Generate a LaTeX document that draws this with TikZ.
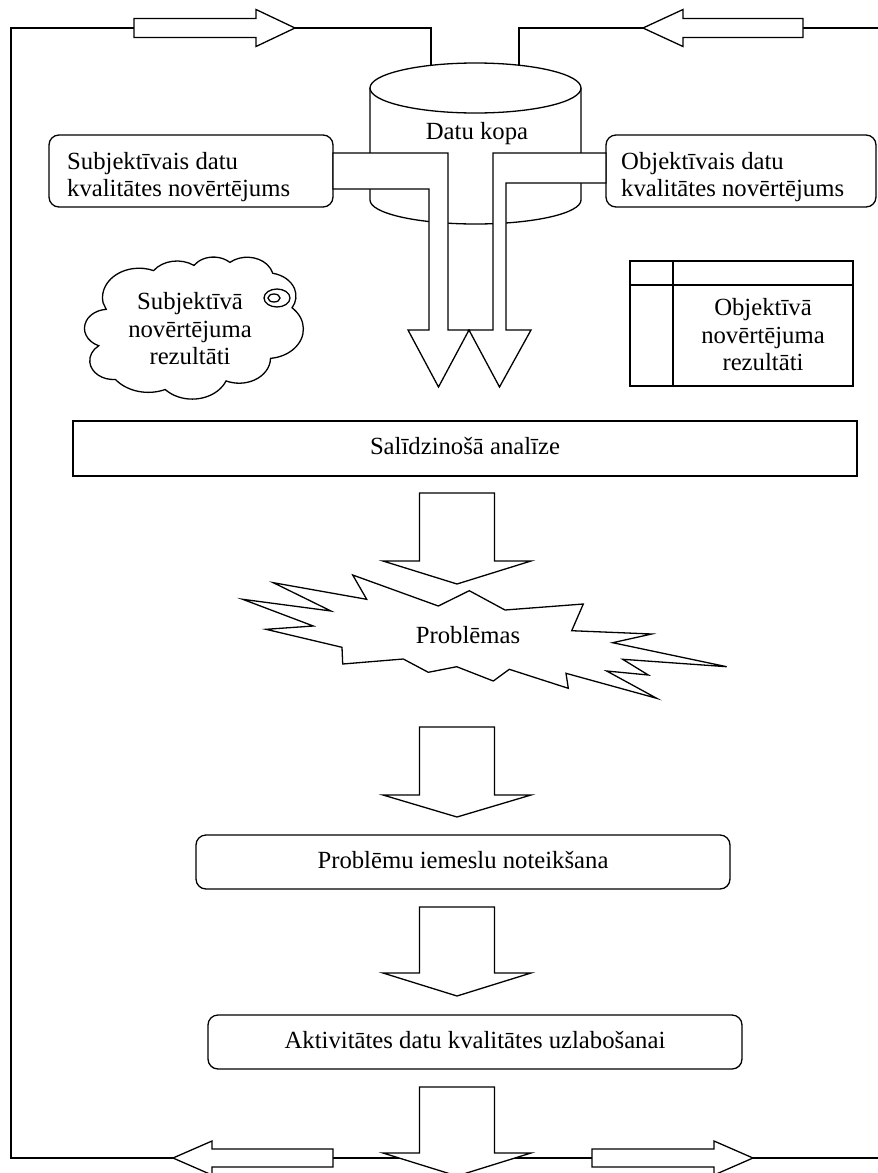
\documentclass[tikz,border=0pt]{standalone}
\usepackage{fontspec}
\setmainfont{Liberation Serif}
\begin{document}
\begin{tikzpicture}[x=1pt,y=-1pt,
  txt/.style={font=\fontsize{24.7pt}{27.5pt}\selectfont, inner sep=0pt},
  stroke/.style={line width=1.3pt, line join=miter},
  panel/.style={stroke, draw, fill=white, inner sep=0pt, text height=17pt, text depth=5pt,
    font=\fontsize{24.7pt}{27.5pt}\selectfont},
  roundpanel/.style={panel, rounded corners=10pt},
  blockarrow/.style={stroke, draw, fill=white}]

\useasboundingbox (0,0) rectangle (878,1173);
\clip (0,0) rectangle (878,1173);
\fill[white] (0,0) rectangle (878,1173);

% feedback loop around the whole process
\coordinate (storeL) at (431,65.3);
\coordinate (storeR) at (519,65.5);
\draw[stroke] (134,28) -- (11,28) -- (11,1158) -- (173,1158);
\draw[stroke] (295,28) -- (431,28) -- (storeL);
\draw[stroke] (storeR) -- (519,28) -- (643,28);
\draw[stroke] (803,28) -- (880,28);
\draw[stroke] (333,1158) -- (420,1158);
\draw[stroke] (500,1158) -- (592,1158);
\draw[stroke] (753,1158) -- (880,1158);

% hollow arrows on the loop
\draw[blockarrow] (134,18.5) -- (256,18.5) -- (256,9.5) -- (295,28) -- (256,46.5) -- (256,37.5) -- (134,37.5) -- cycle;
\draw[blockarrow] (803,18.5) -- (683,18.5) -- (683,9.5) -- (643,28) -- (683,46.5) -- (683,37.5) -- (803,37.5) -- cycle;
\draw[blockarrow] (333,1149) -- (212,1149) -- (212,1141) -- (173,1158) -- (212,1175) -- (212,1167) -- (333,1167) -- cycle;
\draw[blockarrow] (592,1149) -- (714,1149) -- (714,1141) -- (753,1158) -- (714,1175) -- (714,1167) -- (592,1167) -- cycle;

% data store cylinder
\draw[stroke, fill=white] (370,88) -- (370,200)
  .. controls (370,213.3) and (417.2,224) .. (475.5,224)
  .. controls (533.8,224) and (581,213.3) .. (581,200) -- (581,88);
\draw[stroke, fill=white] (475.5,88) ellipse [x radius=105.5, y radius=25];
\node[txt] (store) at (477,134) {Datu kopa};

% assessment boxes
\node[roundpanel, minimum width=284pt, minimum height=72pt] (subj) at (191,171) {};
\node[txt, anchor=west, align=left] (subjtxt) at (67,177) {Subjektīvais datu\\kvalitātes novērtējums};
\node[roundpanel, minimum width=270pt, minimum height=72pt] (obj) at (741,171) {};
\node[txt, anchor=west, align=left] (objtxt) at (621,177) {Objektīvais datu\\kvalitātes novērtējums};

% bent pipes from the assessments down to the results
\draw[blockarrow] (333,153) -- (448,153) -- (448,330) -- (469,330) -- (438.5,387) -- (408,330) -- (429,330) -- (429,189) -- (333,189) -- cycle;
\draw[blockarrow] (606,153) -- (493,153) -- (493,330) -- (469,330) -- (499.5,387) -- (531,330) -- (506,330) -- (506,183) -- (606,183) -- cycle;

% subjective results cloud (cloud outline built from elliptical arcs)
\begin{scope}[shift={(82,257)}, xscale=0.542, yscale=0.3194]
  \draw[stroke, fill=white] (39.00,143.70)
    arc[start angle=-190.4875, delta angle=123.7805, x radius=67.53, y radius=91.90]
    arc[start angle=-144.1024, delta angle=89.9452,  x radius=53.33, y radius=72.67]
    arc[start angle=-145.8079, delta angle=99.7230,  x radius=43.65, y radius=59.45]
    arc[start angle=-130.9861, delta angle=117.2417, x radius=48.57, y radius=65.95]
    arc[start angle=-78.7089,  delta angle=109.0269, x radius=53.33, y radius=72.73]
    arc[start angle=-46.2673,  delta angle=130.2690, x radius=67.75, y radius=92.20]
    arc[start angle=0.6250,    delta angle=114.0333, x radius=57.85, y radius=78.67]
    arc[start angle=22.4516,   delta angle=115.1726, x radius=67.52, y radius=92.15]
    arc[start angle=66.2426,   delta angle=75.7110,  x radius=77.20, y radius=105.43]
    arc[start angle=-274.9421, delta angle=146.7356, x radius=43.60, y radius=59.18]
    arc[start angle=-246.8285, delta angle=152.5189, x radius=43.45, y radius=59.45]
    -- cycle;
\end{scope}
\draw[stroke] (277,298) ellipse [x radius=13, y radius=9];
\draw[stroke] (274,298) ellipse [x radius=6, y radius=4];
\node[txt, align=center] (cloudtxt) at (190,329) {Subjektīvā\\novērtējuma\\rezultāti};

% objective results table
\node[panel, minimum width=223pt, minimum height=125pt] (table) at (741.5,323.5) {};
\draw[stroke] (table.north west |- 0,285) -- (table.north east |- 0,285);
\draw[stroke] (673,0 |- table.north) -- (673,0 |- table.south);
\node[txt, align=center] (tabletxt) at (763,335) {Objektīvā\\novērtējuma\\rezultāti};

% comparison
\node[panel, minimum width=784pt, minimum height=55pt] (compare) at (465,448.5) {Salīdzinošā analīze};
\draw[blockarrow] (419.5,493) -- (494.5,493) -- (494.5,561) -- (531,561) -- (457,584) -- (383,561) -- (419.5,561) -- cycle;

% problems burst
\draw[blockarrow] (242.7,599.3) -- (331,611) -- (273.3,582.7) -- (366.7,599.3) -- (352.7,575)
  -- (438.3,606) -- (469.3,590.7) -- (505,610) -- (583.3,604) -- (571.7,630.7)
  -- (651.7,634) -- (612.7,642.7) -- (726.7,666.7) -- (622.7,659.3) -- (648.3,675)
  -- (606.7,671) -- (656.7,698.3) -- (566,673.3) -- (568.3,688.3) -- (509.3,669.3)
  -- (493.3,681) -- (456.7,666.7) -- (428.3,672.3) -- (403.3,659) -- (342.7,664)
  -- (342,647.3) -- (266,629.3) -- (313.3,626) -- cycle;
\node[txt] (probl) at (468,635) {Problēmas};

\draw[blockarrow] (419.5,727) -- (494.5,727) -- (494.5,795) -- (531,795) -- (457,817) -- (383,795) -- (419.5,795) -- cycle;
\node[roundpanel, minimum width=534pt, minimum height=54pt] (causes) at (463,862) {Problēmu iemeslu noteikšana};

\draw[blockarrow] (419.5,907) -- (494.5,907) -- (494.5,973) -- (531,973) -- (457,996) -- (383,973) -- (419.5,973) -- cycle;
\node[roundpanel, minimum width=534pt, minimum height=54pt] (improve) at (475,1042) {Aktivitātes datu kvalitātes uzlabošanai};

\draw[blockarrow] (419.5,1087) -- (494.5,1087) -- (494.5,1153) -- (531,1153) -- (457,1176) -- (383,1153) -- (419.5,1153) -- cycle;
\end{tikzpicture}
\end{document}
